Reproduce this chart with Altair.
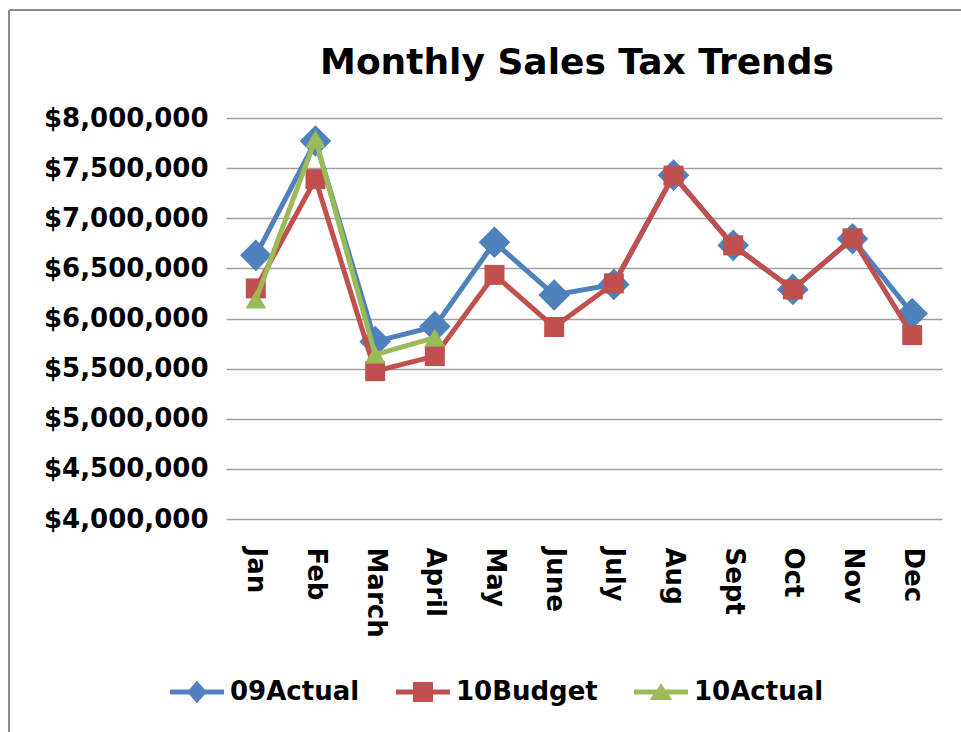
import altair as alt
import pandas as pd

months = ["Jan", "Feb", "March", "April", "May", "June", "July", "Aug", "Sept", "Oct", "Nov", "Dec"]
series_names = ["09Actual", "10Budget", "10Actual"]
series_colors = ["#4F81BD", "#C0504D", "#9BBB59"]

actual09 = [6630000, 7770000, 5770000, 5920000, 6760000, 6235000, 6340000, 7430000, 6730000, 6290000, 6795000, 6050000]
budget10 = [6300000, 7390000, 5475000, 5625000, 6435000, 5915000, 6350000, 7425000, 6730000, 6290000, 6800000, 5835000]
actual10 = [6190000, 7790000, 5640000, 5810000]

y_ticks = [4000000, 4500000, 5000000, 5500000, 6000000, 6500000, 7000000, 7500000, 8000000]

rows = []
for name, vals in zip(series_names, [actual09, budget10, actual10]):
    for m, v in zip(months, vals):
        rows.append({"series": name, "month": m, "value": v})
df = pd.DataFrame(rows)

FONT = "DejaVu Sans"
LBL = 26

x_enc = alt.X(
    "month:N", sort=months,
    scale=alt.Scale(type="point", padding=0.5, domain=months),
    axis=alt.Axis(title=None, labelAngle=90, labelAlign="left", labelBaseline="middle",
                  labelPadding=28, ticks=False, domain=False, grid=False,
                  labelFont=FONT, labelFontWeight="bold", labelFontSize=LBL, labelColor="black"),
)
y_enc = alt.Y(
    "value:Q",
    scale=alt.Scale(domain=[4000000, 8000000], nice=False, zero=False),
    axis=alt.Axis(title=None, values=y_ticks, format="$,.0f", labelPadding=18, ticks=False,
                  domain=False, grid=True, gridColor="#a0a0a0", gridWidth=1.5,
                  labelFont=FONT, labelFontWeight="bold", labelFontSize=LBL, labelColor="black"),
)

plot_shapes = ["diamond", "square", "triangle-up"]
plot_sizes = [1000, 400, 430]

layers = []
# frame decoration
frame_df = pd.DataFrame({"k": [0]})
layers.append(alt.Chart(frame_df).mark_rule(color="#8c8c8c", strokeWidth=2).encode(
    x=alt.value(-217), x2=alt.value(760), y=alt.value(-108)))
layers.append(alt.Chart(frame_df).mark_rule(color="#8c8c8c", strokeWidth=2).encode(
    x=alt.value(-217), y=alt.value(-108), y2=alt.value(640)))

for name, col, shp, sz in zip(series_names, series_colors, plot_shapes, plot_sizes):
    sub = df[df["series"] == name]
    layers.append(alt.Chart(sub).mark_line(color=col, strokeWidth=5).encode(x=x_enc, y=y_enc))
    layers.append(alt.Chart(sub).mark_point(color=col, filled=True, opacity=1, shape=shp, size=sz,
                                            strokeWidth=0).encode(x=x_enc, y=y_enc))

bar = "M-1,-0.09L1,-0.09L1,0.09L-1,0.09Z"
legend_paths = [
    bar + "M-0.37,0L0,-0.42L0.37,0L0,0.42Z",
    bar + "M-0.37,-0.37L0.37,-0.37L0.37,0.37L-0.37,0.37Z",
    bar + "M-0.42,0.3L0,-0.32L0.42,0.3Z",
]
leg = alt.Legend(title=None, orient="none", legendX=-56, legendY=547, direction="horizontal",
                 symbolSize=2916, symbolStrokeWidth=0, labelFont=FONT, labelFontWeight="bold",
                 labelFontSize=LBL, labelColor="black", labelOffset=6, columnPadding=36)
legend_layer = alt.Chart(df).transform_filter("datum.value < 0").mark_point(
    filled=True, opacity=1).encode(
    x=x_enc, y=y_enc,
    color=alt.Color("series:N", scale=alt.Scale(domain=series_names, range=series_colors), legend=leg),
    shape=alt.Shape("series:N", scale=alt.Scale(domain=series_names, range=legend_paths), legend=leg),
)
layers.append(legend_layer)

chart = alt.layer(*layers).properties(
    width=716, height=401,
    padding={"left": 226, "top": 118, "right": 19, "bottom": 213},
    autosize="none",
    background="white",
    title=alt.Title("Monthly Sales Tax Trends", font=FONT, fontWeight="bold", fontSize=36,
                    color="black", anchor="middle", dx=-7, offset=-73),
).configure_view(strokeWidth=0, stroke="transparent")

chart.save("out.html", embed_options={"renderer": "svg", "actions": False})
